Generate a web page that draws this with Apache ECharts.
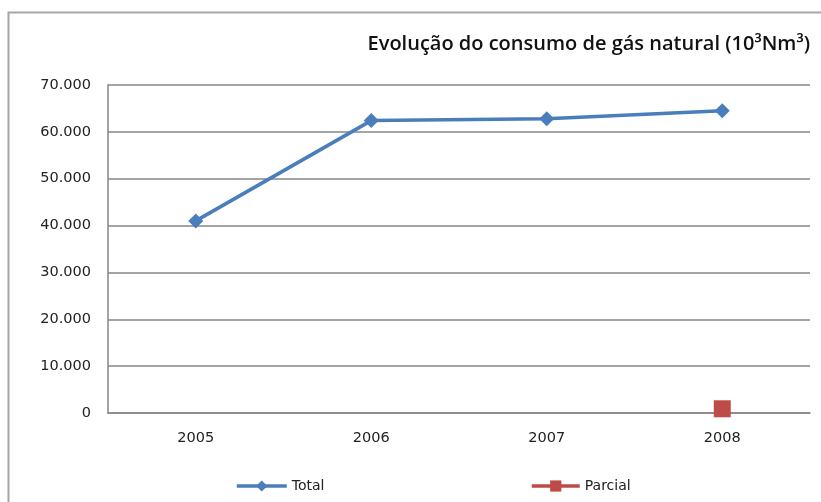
<!DOCTYPE html>
<html>
<head>
<meta charset="utf-8">
<script src="https://cdn.jsdelivr.net/npm/echarts@6/dist/echarts.min.js"></script>
<style>
  html, body { margin: 0; padding: 0; background: #fff; }
  #chart { width: 821px; height: 502px; }
</style>
</head>
<body>
<div id="chart"></div>
<script>
const years = ['2005', '2006', '2007', '2008']
const total = [41000, 62400, 62800, 64500]
const parcial = [null, null, null, 900]
const yTicks = [0, 10000, 20000, 30000, 40000, 50000, 60000, 70000]

const chart = echarts.init(document.getElementById('chart'))

// 70000 -> "70.000"
function fmt(v) {
  return String(v).replace(/\B(?=(\d{3})+(?!\d))/g, '.')
}

chart.setOption({
  animation: false,
  title: {
    text: 'Evolução do consumo de gás natural (10³Nm³)',
    right: 6,
    top: 29,
    textStyle: { fontFamily: 'Open Sans', fontWeight: 600, fontSize: 20, color: '#111' }
  },
  graphic: [{
    type: 'rect',
    shape: { x: 8.5, y: 12.5, width: 900, height: 600 },
    style: { fill: null, stroke: '#a6a6a6', lineWidth: 2 }
  }],
  legend: [{
    data: ['Total'],
    left: 230,
    top: 474,
    itemWidth: 50,
    itemHeight: 14,
    itemGap: 4,
    lineStyle: { width: 3.5 },
    textStyle: { fontFamily: 'DejaVu Sans', fontSize: 14, color: '#222' }
  }, {
    data: ['Parcial'],
    left: 525,
    top: 474,
    itemWidth: 48,
    itemHeight: 14,
    lineStyle: { width: 3.5 },
    textStyle: { fontFamily: 'DejaVu Sans', fontSize: 14, color: '#222' }
  }],
  grid: { left: 108, right: 11, top: 85, bottom: 89 },
  xAxis: {
    type: 'category',
    data: years,
    boundaryGap: true,
    axisLine: { lineStyle: { color: '#868686', width: 1.5 } },
    axisTick: { show: false },
    axisLabel: { margin: 18, fontFamily: 'DejaVu Sans', fontSize: 14.5, color: '#222' }
  },
  yAxis: {
    type: 'value',
    min: yTicks[0],
    max: yTicks[yTicks.length - 1],
    interval: 10000,
    axisLine: { show: true, lineStyle: { color: '#868686', width: 1.5 } },
    axisTick: { show: false },
    splitLine: { lineStyle: { color: '#868686', width: 1.5 } },
    axisLabel: {
      margin: 17,
      fontFamily: 'DejaVu Sans',
      fontSize: 14.5,
      color: '#222',
      formatter: fmt
    }
  },
  series: [{
    name: 'Total',
    type: 'line',
    data: total,
    symbol: 'diamond',
    symbolSize: 15,
    lineStyle: { color: '#4a7ebb', width: 3.5 },
    itemStyle: { color: '#4a7ebb' }
  }, {
    name: 'Parcial',
    type: 'line',
    data: parcial,
    symbol: 'rect',
    symbolSize: 17,
    lineStyle: { color: '#be4b48', width: 3.5 },
    itemStyle: { color: '#be4b48' }
  }]
})
</script>
</body>
</html>
